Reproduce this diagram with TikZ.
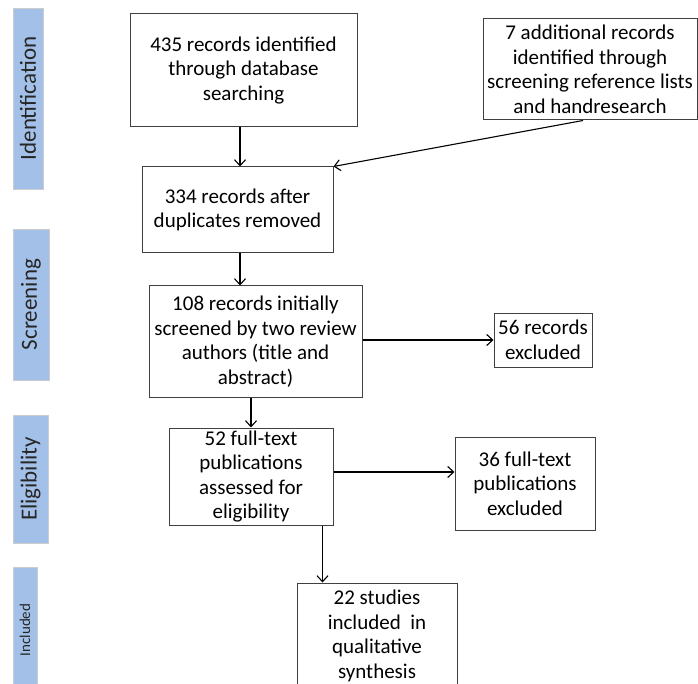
\documentclass[tikz,border=0pt]{standalone}
\usepackage{fontspec}
\setmainfont{Carlito}
\usepackage{xcolor}
\usetikzlibrary{arrows.meta, positioning}
\definecolor{phaseblue}{RGB}{163,193,232}

\begin{document}
\begin{tikzpicture}[
  x=1pt, y=-1pt,
  box/.style={rectangle, draw=black!75, line width=1pt, align=center, inner sep=1pt, font=\fontsize{21}{24.5}\selectfont},
  phase/.style={rectangle, draw=black!20, fill=phaseblue, rotate=90, inner sep=0pt, align=center, text=black!85, font=\fontsize{23}{27}\selectfont},
  arr/.style={-{Straight Barb[length=6pt, width=11pt]}, line width=1.1pt}
]
\clip (0,0) rectangle (698,684);
\fill[white] (0,0) rectangle (698,684);

% phases on the left
\node[phase, minimum width=181, minimum height=30] (ident) at (28,98.5) {Identification};
\node[phase, minimum width=151, minimum height=36] (screen) at (31,304.5) {Screening};
\node[phase, minimum width=128, minimum height=35] (elig) at (30.5,479) {Eligibility};
\node[phase, minimum width=126, minimum height=24, font=\fontsize{15}{18}\selectfont] (incl) at (25,630) {Included};

% flow boxes
\node[box, minimum width=227, minimum height=113] (db) at (243.5,70.5) {435 records identified\\ through database\\ searching};
\node[box, minimum width=214, minimum height=101] (extra) at (590,69.5) {7 additional records\\ identified through\\ screening reference lists\\ and handresearch};
\node[box, minimum width=191, minimum height=86] (dup) at (237.5,210) {334 records after\\ duplicates removed};
\node[box, minimum width=213, minimum height=111] (titles) at (255.5,341.5) {108 records initially\\ screened by two review\\ authors (title and\\ abstract)};
\node[box, minimum width=98, minimum height=54] (excl1) at (543,340) {56 records\\ excluded};
\node[box, minimum width=164, minimum height=97] (fulltext) at (251,476.5) {52 full-text\\ publications\\ assessed for\\ eligibility};
\node[box, minimum width=140, minimum height=93] (excl2) at (525,483.5) {36 full-text\\ publications\\ excluded};
\node[box, minimum width=160, minimum height=106] (final) at (377,636) {22 studies\\ included \ in\\ qualitative\\ synthesis};

% connectors
\draw[arr] ([xshift=-3.5pt]db.south) -- ([xshift=-3.5pt]db.south |- dup.north);
\draw[arr] ([xshift=-7pt]extra.south) -- (dup.north east);
\draw[arr] ([xshift=2.5pt]dup.south) -- ([xshift=2.5pt]dup.south |- titles.north);
\draw[arr] (titles.east |- excl1.west) -- (excl1.west);
\draw[arr] (fulltext.north |- titles.south) -- (fulltext.north);
\draw[arr] ([yshift=4.5pt]fulltext.east) -- ([yshift=4.5pt]fulltext.east -| excl2.west);
\draw[arr] ([xshift=-11pt]fulltext.south east) -- ([xshift=-11pt]fulltext.south east |- final.north);
\end{tikzpicture}
\end{document}
